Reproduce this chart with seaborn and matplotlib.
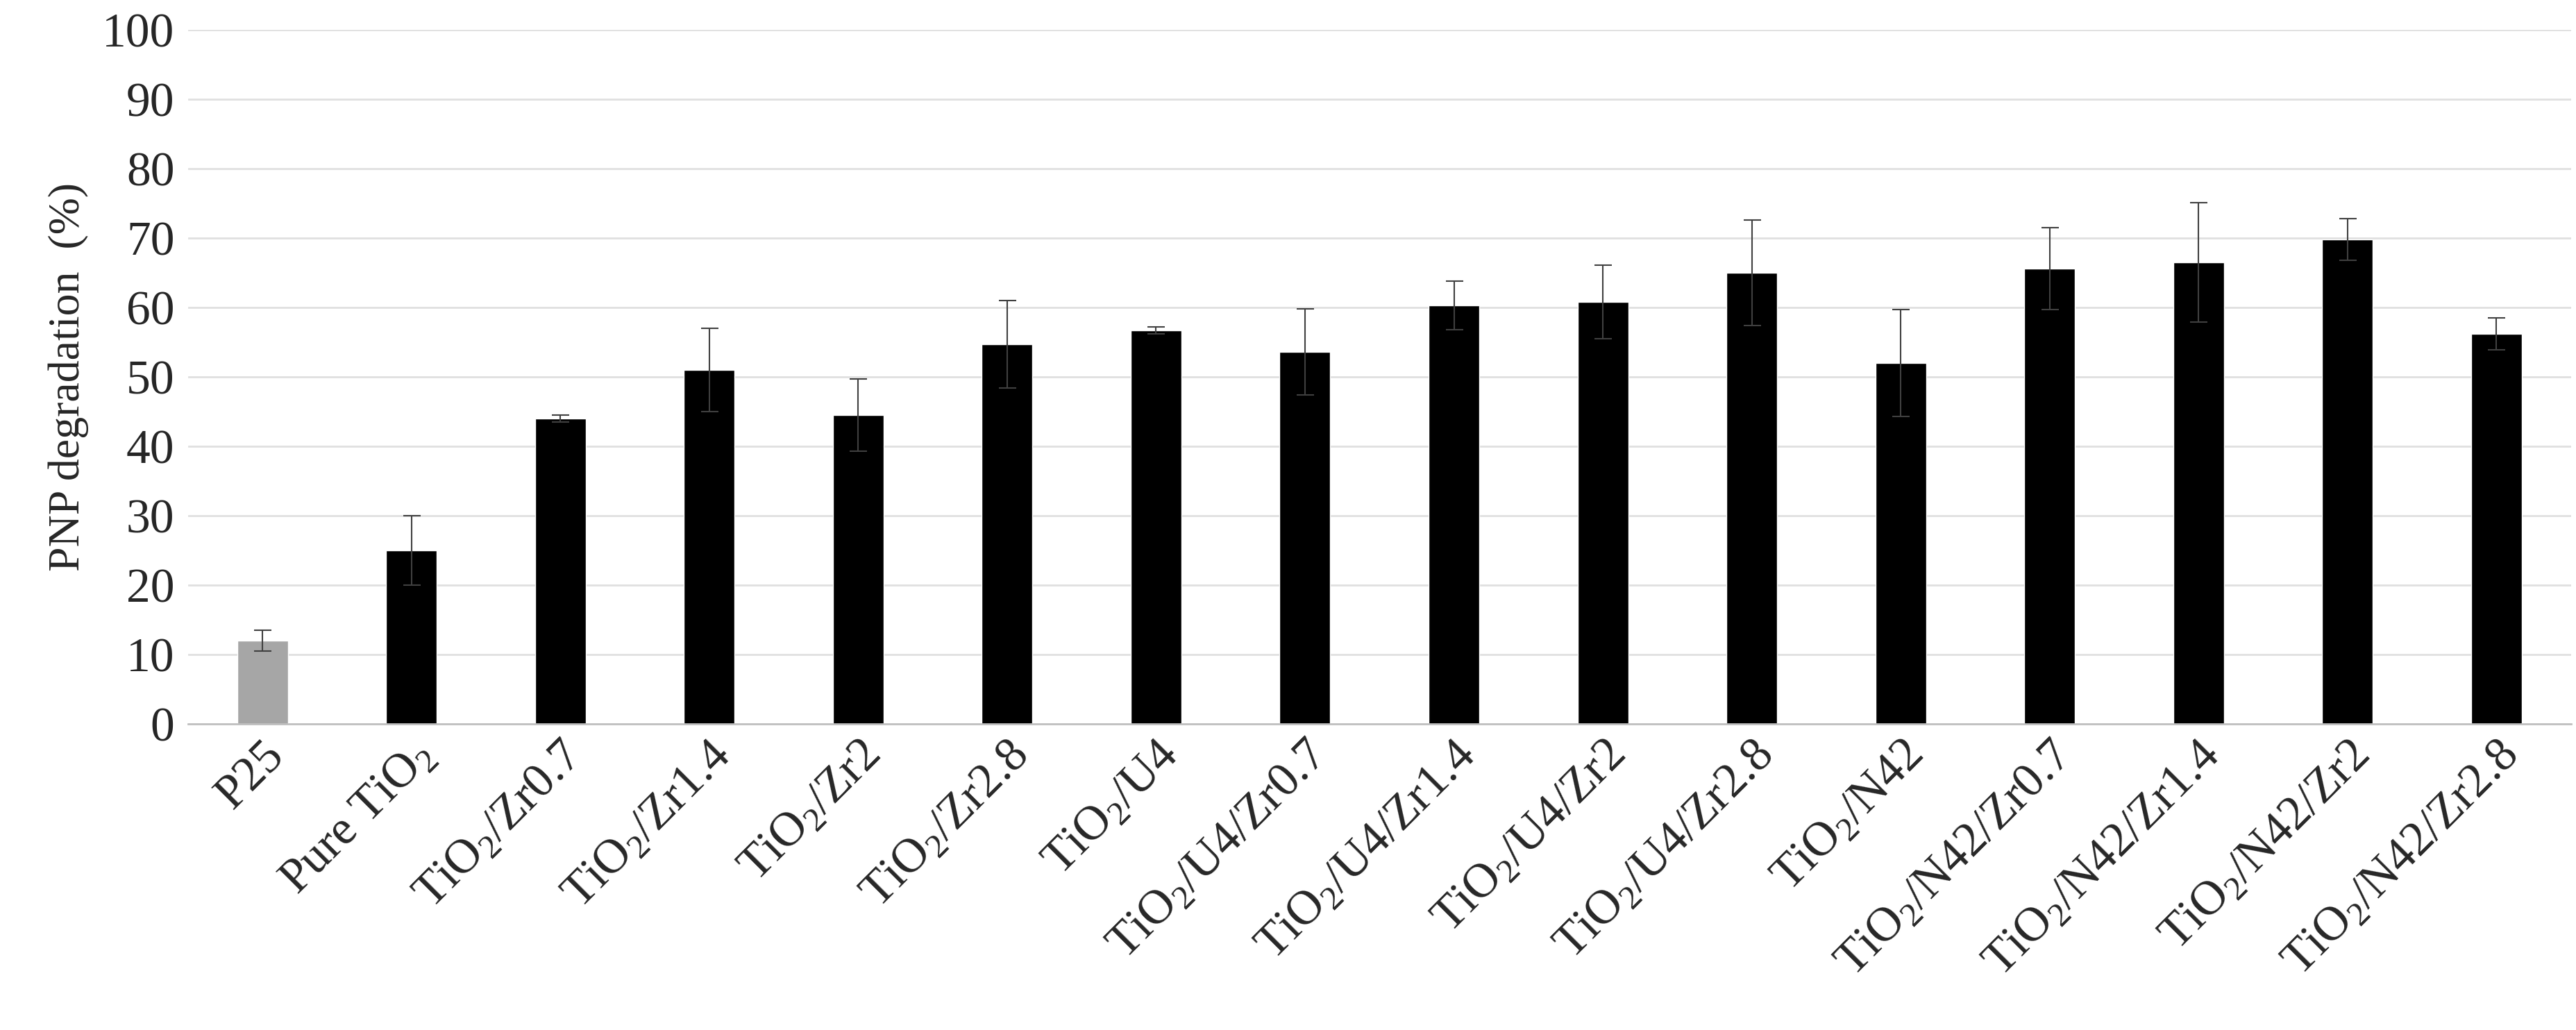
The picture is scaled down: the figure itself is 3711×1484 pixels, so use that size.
import matplotlib
matplotlib.use("Agg")
import matplotlib.pyplot as plt
import seaborn as sns
import pandas as pd

categories = ["P25", "Pure TiO$_\\mathregular{2}$", "TiO$_\\mathregular{2}$/Zr0.7", "TiO$_\\mathregular{2}$/Zr1.4",
              "TiO$_\\mathregular{2}$/Zr2", "TiO$_\\mathregular{2}$/Zr2.8", "TiO$_\\mathregular{2}$/U4",
              "TiO$_\\mathregular{2}$/U4/Zr0.7", "TiO$_\\mathregular{2}$/U4/Zr1.4", "TiO$_\\mathregular{2}$/U4/Zr2",
              "TiO$_\\mathregular{2}$/U4/Zr2.8", "TiO$_\\mathregular{2}$/N42", "TiO$_\\mathregular{2}$/N42/Zr0.7",
              "TiO$_\\mathregular{2}$/N42/Zr1.4", "TiO$_\\mathregular{2}$/N42/Zr2", "TiO$_\\mathregular{2}$/N42/Zr2.8"]
values = [12.0, 25.0, 44.0, 51.0, 44.5, 54.7, 56.7, 53.6, 60.3, 60.8, 65.0, 52.0, 65.6, 66.5, 69.8, 56.2]
errors = [1.5, 5.0, 0.5, 6.0, 5.2, 6.3, 0.5, 6.2, 3.5, 5.3, 7.6, 7.7, 5.9, 8.6, 3.0, 2.3]
colors = ["#a6a6a6"] + ["#000000"] * 15

sns.set_theme(style="white")
plt.rcParams['font.family'] = ['Liberation Serif', 'DejaVu Serif']
plt.rcParams['mathtext.fontset'] = 'custom'
plt.rcParams['mathtext.rm'] = 'Liberation Serif'

df = pd.DataFrame({"cat": categories, "val": values})
fig, ax = plt.subplots(figsize=(37.11, 14.84), dpi=100)
fig.subplots_adjust(left=0.073, right=0.998, top=0.971, bottom=0.297)
sns.barplot(data=df, x="cat", y="val", hue="cat", palette=colors, legend=False,
            width=0.34, ax=ax, saturation=1)
ax.errorbar(range(len(values)), values, yerr=errors, fmt="none", ecolor="#404040",
            elinewidth=1.5, capsize=9, capthick=1.5)
ax.set_ylim(0, 100)
ax.set_yticks(range(0, 101, 10))
ax.set_xlim(-0.5, len(values) - 0.5)
ax.yaxis.grid(True, color="#e0e0e0", linewidth=2)
ax.set_axisbelow(True)
for s in ["top", "right", "left"]:
    ax.spines[s].set_visible(False)
ax.spines["bottom"].set_color("#bfbfbf")
ax.spines["bottom"].set_linewidth(2)
ax.set_xlabel("")
ax.set_ylabel("PNP degradation  (%)", fontsize=46, labelpad=14)
ax.tick_params(axis="y", labelsize=50, length=0, pad=14)
ax.tick_params(axis="x", labelsize=50, length=0, pad=10)
plt.setp(ax.get_xticklabels(), rotation=45, ha="right", rotation_mode="anchor")
fig.savefig("out.png", dpi=100)
